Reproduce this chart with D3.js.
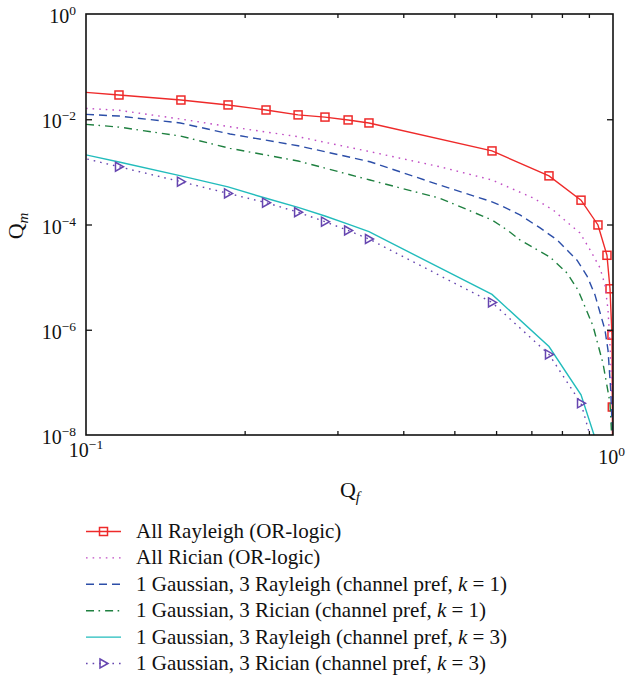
<!DOCTYPE html>
<html>
<head>
<meta charset="utf-8">
<script src="https://cdn.jsdelivr.net/npm/d3@7"></script>
<style>
    body { margin: 0; background: #fff; }
    text { font-family: "Liberation Serif", "DejaVu Serif", serif; fill: #111; }
</style>
</head>
<body>
<div id="chart"></div>
<script>
// data (Qf, Qm pairs per curve)
var allRayleighQf = [0.085, 0.1155, 0.1514, 0.186, 0.2196, 0.2526, 0.2841, 0.3143, 0.3443, 0.5894, 0.756, 0.8696, 0.9364, 0.974, 0.987, 0.9955, 0.997, 0.999];
var allRayleighQm = [0.037, 0.0289, 0.0232, 0.0187, 0.0150, 0.0121, 0.0110, 0.0097, 0.0085, 0.0025, 8.4e-4, 2.9e-4, 9.8e-5, 2.6e-5, 6.0e-6, 7.9e-7, 3.4e-8, 1e-9];

var allRicianQf = [0.1, 0.1155, 0.151, 0.1876, 0.2526, 0.3458, 0.4695, 0.5894, 0.7053, 0.7694, 0.8215, 0.8658, 0.9046, 0.9447, 0.9656, 0.9784, 0.9869, 0.9935, 0.9969, 0.9991];
var allRicianQm = [0.0161, 0.0148, 0.0101, 0.0072, 0.00466, 0.00242, 0.00125, 7.0e-4, 3.2e-4, 1.89e-4, 1.07e-4, 6.9e-5, 3.3e-5, 1.5e-5, 7.1e-6, 2.4e-6, 5.1e-7, 1.1e-7, 1.9e-8, 5e-9];

var gaussRayleighK1Qf = [0.1, 0.1155, 0.151, 0.1876, 0.2526, 0.3458, 0.4695, 0.5894, 0.6185, 0.666, 0.7272, 0.783, 0.8545, 0.8928, 0.9243, 0.9656, 0.9784, 0.990, 0.9969, 1.0];
var gaussRayleighK1Qm = [0.0124, 0.0115, 0.0085, 0.00525, 0.00314, 0.00156, 5.6e-4, 2.7e-4, 2.18e-4, 1.52e-4, 8.6e-5, 5.1e-5, 2.1e-5, 1.05e-5, 4.6e-6, 9.9e-7, 4.1e-7, 7.2e-8, 1.24e-8, 5e-9];

var gaussRicianK1Qf = [0.1, 0.1155, 0.151, 0.1876, 0.2526, 0.3458, 0.4695, 0.5894, 0.6294, 0.666, 0.7594, 0.8179, 0.8582, 0.9163, 0.9572, 0.9869, 0.9943, 0.9978];
var gaussRicianK1Qm = [0.0080, 0.0071, 0.0048, 0.0028, 0.00161, 7.0e-4, 3.15e-4, 1.22e-4, 7.9e-5, 5.1e-5, 2.4e-5, 1.2e-5, 5.7e-6, 1.18e-6, 2.3e-7, 4.1e-8, 9.6e-9, 3.3e-9];

var gaussRayleighK3Qf = [0.085, 0.1155, 0.1514, 0.186, 0.2196, 0.2526, 0.2841, 0.3143, 0.3443, 0.5894, 0.756, 0.8696, 0.9364];
var gaussRayleighK3Qm = [3.0e-3, 1.54e-3, 8.4e-4, 5.2e-4, 3.15e-4, 2.12e-4, 1.45e-4, 1.02e-4, 7.3e-5, 4.7e-6, 4.8e-7, 5.8e-8, 5.9e-9];

var gaussRicianK3Qf = [0.085, 0.1155, 0.1514, 0.186, 0.2196, 0.2526, 0.2841, 0.3143, 0.3443, 0.5894, 0.756, 0.8696, 0.9364];
var gaussRicianK3Qm = [2.64e-3, 1.25e-3, 6.5e-4, 3.9e-4, 2.6e-4, 1.71e-4, 1.13e-4, 7.7e-5, 5.3e-5, 3.3e-6, 3.4e-7, 4.0e-8, 2.8e-9];

var legendLabels = [
    "All Rayleigh (OR-logic)",
    "All Rician (OR-logic)",
    "1 Gaussian, 3 Rayleigh (channel pref, |k| = 1)",
    "1 Gaussian, 3 Rician (channel pref, |k| = 1)",
    "1 Gaussian, 3 Rayleigh (channel pref, |k| = 3)",
    "1 Gaussian, 3 Rician (channel pref, |k| = 3)"
];

var xMinorTicks = [0.2, 0.3, 0.4, 0.5, 0.6, 0.7, 0.8, 0.9];
var yTickExps = [0, -2, -4, -6, -8];

// STEP 1: canvas
var svgWidth = 626;
var svgHeight = 680;
var margin = { top: 14, left: 86 };
var chart_width = 527;
var chart_height = 421;

var svg = d3.select("#chart")
    .append("svg")
    .attr("width", svgWidth)
    .attr("height", svgHeight);

var chartGroup = svg.append("g")
    .attr("transform", `translate(${margin.left}, ${margin.top})`);

chartGroup.append("clipPath")
    .attr("id", "plotClip")
    .append("rect")
    .attr("width", chart_width)
    .attr("height", chart_height);

// STEP 2: scales
var xScale = d3.scaleLog().domain([0.1, 1]).range([0, chart_width]);
var yScale = d3.scaleLog().domain([1e-8, 1]).range([chart_height, 0]);

// STEP 3: series styles
var series = [
    { qf: allRayleighQf, qm: allRayleighQm, color: "#ee2a2a", dash: null, marker: "square" },
    { qf: allRicianQf, qm: allRicianQm, color: "#c04cc4", dash: "1.6,5", marker: null },
    { qf: gaussRayleighK1Qf, qm: gaussRayleighK1Qm, color: "#2c4ea8", dash: "8,5", marker: null },
    { qf: gaussRicianK1Qf, qm: gaussRicianK1Qm, color: "#1f8040", dash: "8,4.5,1.6,5", marker: null },
    { qf: gaussRayleighK3Qf, qm: gaussRayleighK3Qm, color: "#22bcbc", dash: null, marker: null },
    { qf: gaussRicianK3Qf, qm: gaussRicianK3Qm, color: "#6646b0", dash: "1.6,5", marker: "triangle" }
];

var line = d3.line()
    .x(d => xScale(d[0]))
    .y(d => yScale(d[1]));

var plotGroup = chartGroup.append("g")
    .attr("clip-path", "url(#plotClip)");

function drawMarker(g, type, color, cx, cy) {
    if (type == "square") {
        g.append("rect")
            .attr("x", cx - 4)
            .attr("y", cy - 4)
            .attr("width", 8)
            .attr("height", 8)
            .attr("fill", "none")
            .attr("stroke", color)
            .attr("stroke-width", 1.5);
    } else if (type == "triangle") {
        g.append("path")
            .attr("d", `M${cx - 3.5},${cy - 4.5}L${cx + 4.5},${cy}L${cx - 3.5},${cy + 4.5}Z`)
            .attr("fill", "none")
            .attr("stroke", color)
            .attr("stroke-width", 1.5);
    }
}

series.forEach(function(s) {
    var pts = s.qf.map((q, i) => [q, s.qm[i]]);
    plotGroup.append("path")
        .datum(pts)
        .attr("d", line)
        .attr("fill", "none")
        .attr("stroke", s.color)
        .attr("stroke-width", 1.4)
        .attr("stroke-dasharray", s.dash);
    if (s.marker) {
        pts.forEach(function(p) {
            drawMarker(plotGroup, s.marker, s.color, xScale(p[0]), yScale(p[1]));
        });
    }
});

// STEP 4: axes (ticks only, pointing inward)
chartGroup.append("g")
    .attr("transform", `translate(0, ${chart_height})`)
    .call(d3.axisBottom(xScale).tickValues(xMinorTicks).tickSize(-4).tickSizeOuter(0).tickFormat(""));
chartGroup.append("g")
    .call(d3.axisTop(xScale).tickValues(xMinorTicks).tickSize(-4).tickSizeOuter(0).tickFormat(""));
chartGroup.append("g")
    .call(d3.axisLeft(yScale).tickValues([1e-2, 1e-4, 1e-6]).tickSize(-6).tickSizeOuter(0).tickFormat(""));
chartGroup.append("g")
    .attr("transform", `translate(${chart_width}, 0)`)
    .call(d3.axisRight(yScale).tickValues([1e-2, 1e-4, 1e-6]).tickSize(-6).tickSizeOuter(0).tickFormat(""));
chartGroup.selectAll(".domain").remove();
chartGroup.selectAll(".tick line").attr("stroke", "#111").attr("stroke-width", 1.3);

chartGroup.append("rect")
    .attr("width", chart_width)
    .attr("height", chart_height)
    .attr("fill", "none")
    .attr("stroke", "#111")
    .attr("stroke-width", 1.6);

// STEP 5: tick labels
function powerLabel(sel, exp) {
    sel.append("tspan").text("10");
    sel.append("tspan")
        .attr("dy", -8)
        .attr("font-size", 13.5)
        .text(exp < 0 ? "\u2212" + (-exp) : exp);
}

yTickExps.forEach(function(e) {
    var t = chartGroup.append("text")
        .attr("x", -10)
        .attr("y", yScale(Math.pow(10, e)) + 9)
        .attr("text-anchor", "end")
        .attr("font-size", 20);
    powerLabel(t, e);
});

var xl0 = chartGroup.append("text")
    .attr("x", xScale(0.1))
    .attr("y", chart_height + 22)
    .attr("text-anchor", "middle")
    .attr("font-size", 20);
powerLabel(xl0, -1);

var xl1 = svg.append("text")
    .attr("x", 625)
    .attr("y", margin.top + chart_height + 29)
    .attr("text-anchor", "end")
    .attr("font-size", 20);
powerLabel(xl1, 0);

// STEP 6: axis titles
var yTitle = svg.append("text")
    .attr("transform", "translate(23, 226) rotate(-90)")
    .attr("text-anchor", "middle")
    .attr("font-size", 22);
yTitle.append("tspan").text("Q");
yTitle.append("tspan").attr("dy", 5).attr("font-size", 15).attr("font-style", "italic").text("m");

var xTitle = svg.append("text")
    .attr("x", 350)
    .attr("y", 497)
    .attr("text-anchor", "middle")
    .attr("font-size", 22);
xTitle.append("tspan").text("Q");
xTitle.append("tspan").attr("dy", 5).attr("font-size", 15).attr("font-style", "italic").text("f");

// STEP 7: legend
var legend = svg.append("g");
series.forEach(function(s, i) {
    var ly = 531.5 + i * 26.4;
    legend.append("line")
        .attr("x1", 86)
        .attr("x2", 121)
        .attr("y1", ly)
        .attr("y2", ly)
        .attr("stroke", s.color)
        .attr("stroke-width", 1.4)
        .attr("stroke-dasharray", s.dash);
    if (s.marker) {
        drawMarker(legend, s.marker, s.color, 103.5, ly);
    }
    var t = legend.append("text")
        .attr("x", 136)
        .attr("y", ly + 6.5)
        .attr("font-size", 21);
    legendLabels[i].split("|").forEach(function(part, j) {
        t.append("tspan")
            .attr("font-style", j == 1 ? "italic" : null)
            .text(part);
    });
});
</script>
</body>
</html>
